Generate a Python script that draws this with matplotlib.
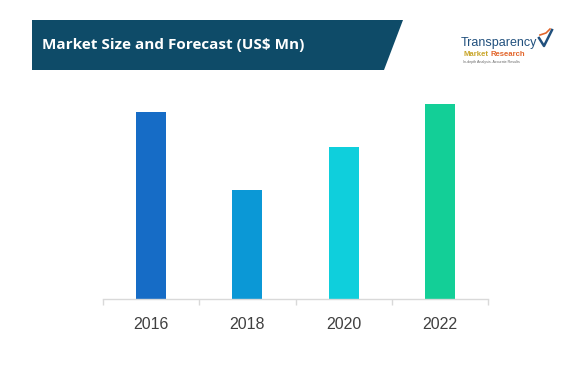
import matplotlib.pyplot as plt
from matplotlib.patches import Polygon
from matplotlib.lines import Line2D

# data (no axis scale shown, relative units)
years = ["2016", "2018", "2020", "2022"]
values = [187, 109, 152, 195]
bar_colors = ["#166cc6", "#0b98d6", "#0fcfdc", "#13cf97"]

title = "Market Size and Forecast (US$ Mn)"
banner_color = "#0e4b68"

W, H = 580, 392


def px(x, y):
    """pixel position (top-left origin) -> figure fraction"""
    return x / W, 1 - y / H


fig = plt.figure(figsize=(W / 100, H / 100), dpi=100)
fig.patch.set_facecolor("white")

# banner with slanted right edge
banner = Polygon([px(32, 20), px(403, 20), px(384, 70), px(32, 70)],
                 closed=True, transform=fig.transFigure,
                 facecolor=banner_color, edgecolor="none")
fig.patches.append(banner)
fig.text(*px(42, 45), title, color="white", fontsize=11.0, fontweight="bold",
         family="Open Sans", va="center", ha="left")

# logo
fig.text(*px(461, 43), "Transparency", color="#21507d", fontsize=9.0,
         family="Liberation Sans", va="center", ha="left")
fig.text(*px(463, 55), "Market", color="#c9a62b", fontsize=5.6,
         fontweight="bold", family="Liberation Sans", va="center", ha="left")
fig.text(*px(490.5, 55), "Research", color="#e2662c", fontsize=5.6,
         fontweight="bold", family="Liberation Sans", va="center", ha="left")
fig.text(*px(463, 62.5), "In-depth Analysis. Accurate Results", color="#666666",
         fontsize=2.6, family="Liberation Sans", va="center", ha="left")
cx, cy = zip(*[px(539, 38), px(544, 46), px(552, 30)])
fig.lines.append(Line2D(cx, cy, transform=fig.transFigure, color="#21507d", lw=1.8))
ox, oy = zip(*[px(540, 35), px(546, 33), px(550, 29)])
fig.lines.append(Line2D(ox, oy, transform=fig.transFigure, color="#e2662c", lw=1.2))

# bar chart
left, bottom = px(103, 299)
ax = fig.add_axes([left, bottom, 385 / W, 209 / H])
xpos = range(len(years))
ax.bar(xpos, values, width=0.31, color=bar_colors)
ax.set_xlim(-0.5, len(years) - 0.5)
ax.set_ylim(0, 209)

for side in ["top", "right", "left"]:
    ax.spines[side].set_visible(False)
ax.spines["bottom"].set_color("#d9d9d9")
ax.spines["bottom"].set_linewidth(1)
ax.set_yticks([])
ax.set_xticks(list(xpos))
ax.set_xticklabels(years, fontsize=11.5, color="#404040", family="Liberation Sans")
ax.tick_params(axis="x", which="major", length=0, pad=13)
ax.set_xticks([i - 0.5 for i in range(len(years) + 1)], minor=True)
ax.tick_params(axis="x", which="minor", length=4, color="#d9d9d9", width=1)
ax.set_facecolor("white")

fig.savefig("out.png", dpi=100, facecolor="white")
